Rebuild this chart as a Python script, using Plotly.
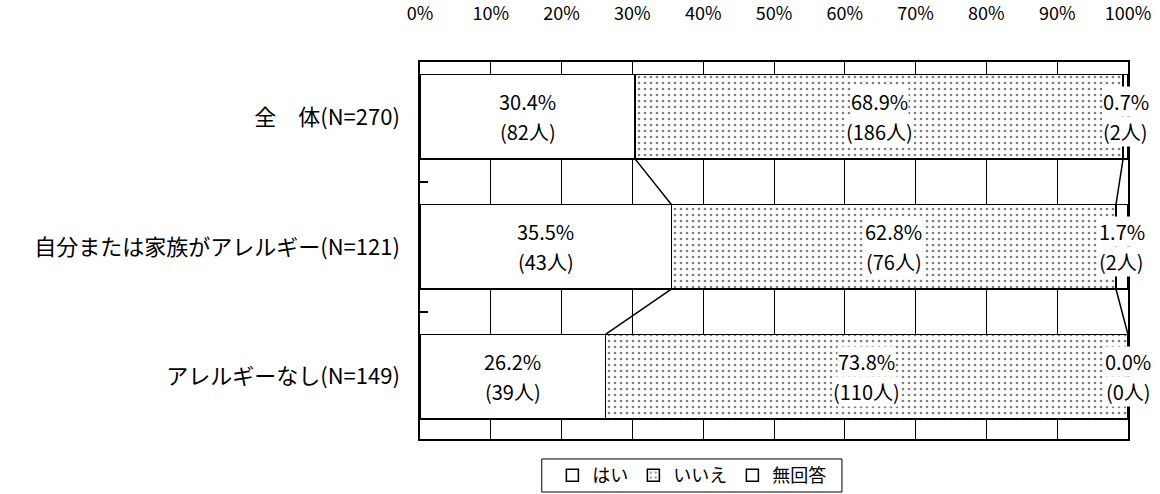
import plotly.graph_objects as go

# Survey result: share of answers per respondent group
groups = ["全　体(N=270)", "自分または家族がアレルギー(N=121)", "アレルギーなし(N=149)"]
answers = ["はい", "いいえ", "無回答"]
pct_yes = [30.4, 35.5, 26.2]
pct_no = [68.9, 62.8, 73.8]
pct_na = [0.7, 1.7, 0.0]
cnt_yes = [82, 43, 39]
cnt_no = [186, 76, 110]
cnt_na = [2, 2, 0]
tick_values = [0, 10, 20, 30, 40, 50, 60, 70, 80, 90, 100]

FONT = "Noto Sans CJK JP"
BAR_W = 0.65
ypos = list(range(len(groups)))

series = [
    (answers[0], pct_yes, cnt_yes, dict(color="white", line=dict(color="black", width=1.5))),
    (answers[1], pct_no, cnt_no, dict(color="white", line=dict(color="black", width=1.5),
                                       pattern=dict(shape=".", fgcolor="black", bgcolor="white",
                                                    size=6, solidity=0.16))),
    (answers[2], pct_na, cnt_na, dict(color="white", line=dict(color="black", width=1.5))),
]

fig = go.Figure()
for name, vals, _, marker in series:
    fig.add_trace(go.Bar(
        x=vals, y=ypos, name=name, orientation="h", width=BAR_W,
        marker=marker, hoverinfo="skip",
    ))

# Series lines joining segment boundaries between neighbouring bars
cum1 = pct_yes
cum2 = [a + b for a, b in zip(pct_yes, pct_no)]
for cum in (cum1, cum2):
    for i in range(len(ypos) - 1):
        fig.add_trace(go.Scatter(
            x=[cum[i], cum[i + 1]],
            y=[ypos[i] + BAR_W / 2, ypos[i + 1] - BAR_W / 2],
            mode="lines", line=dict(color="black", width=1.5),
            showlegend=False, hoverinfo="skip",
        ))

# Value labels centred in each segment: percentage above, head count below
annotations = []
label_font = dict(family=FONT, size=20, color="black")
for i in ypos:
    start = 0.0
    for _, vals, cnts, _ in series:
        v = vals[i]
        xc = start + v / 2
        annotations.append(dict(
            x=xc, y=ypos[i], xref="x", yref="y", yshift=15,
            text=f"{v:.1f}%", showarrow=False, font=label_font,
            bgcolor="white", borderpad=0,
        ))
        annotations.append(dict(
            x=xc, y=ypos[i], xref="x", yref="y", yshift=-15,
            text=f"({cnts[i]}人)", showarrow=False, font=label_font,
            bgcolor="white", borderpad=0,
        ))
        start += v

# Frame drawn around the legend entries
legend_frame = dict(
    type="rect", xref="paper", yref="paper",
    x0=0.172, x1=0.596, y0=-0.1406, y1=-0.053,
    line=dict(color="black", width=1), fillcolor="rgba(0,0,0,0)",
)

fig.update_layout(
    width=1160, height=494,
    margin=dict(l=420, r=32, t=62, b=55),
    paper_bgcolor="white", plot_bgcolor="white",
    barmode="stack", bargap=0.35,
    font=dict(family=FONT, color="black"),
    annotations=annotations,
    shapes=[legend_frame],
    legend=dict(
        orientation="h", x=0.384, xanchor="center",
        yref="container", y=1 - 457 / 494, yanchor="top",
        borderwidth=0, bgcolor="rgba(0,0,0,0)",
        font=dict(family=FONT, size=18, color="black"),
        itemclick=False, traceorder="normal",
    ),
    xaxis=dict(
        side="top", range=[0, 100], tickvals=tick_values,
        ticktext=[f"{t}%" for t in tick_values],
        showgrid=True, gridcolor="black", gridwidth=1,
        showline=True, linecolor="black", linewidth=1.5, mirror=True,
        ticks="", ticklabelstandoff=33, zeroline=False, automargin=False,
        tickfont=dict(family=FONT, size=18, color="black"),
    ),
    yaxis=dict(
        range=[2.48, -0.423], tickvals=ypos, ticktext=groups,
        showgrid=False, zeroline=False, automargin=False,
        showline=True, linecolor="black", linewidth=1.5, mirror=True,
        ticks="", ticklabelstandoff=14,
        minor=dict(tickvals=[0.5, 1.5], ticks="inside", ticklen=8,
                   tickcolor="black", tickwidth=1.5, showgrid=False),
        tickfont=dict(family=FONT, size=22, color="black"),
    ),
)

fig.write_html("out.html")
